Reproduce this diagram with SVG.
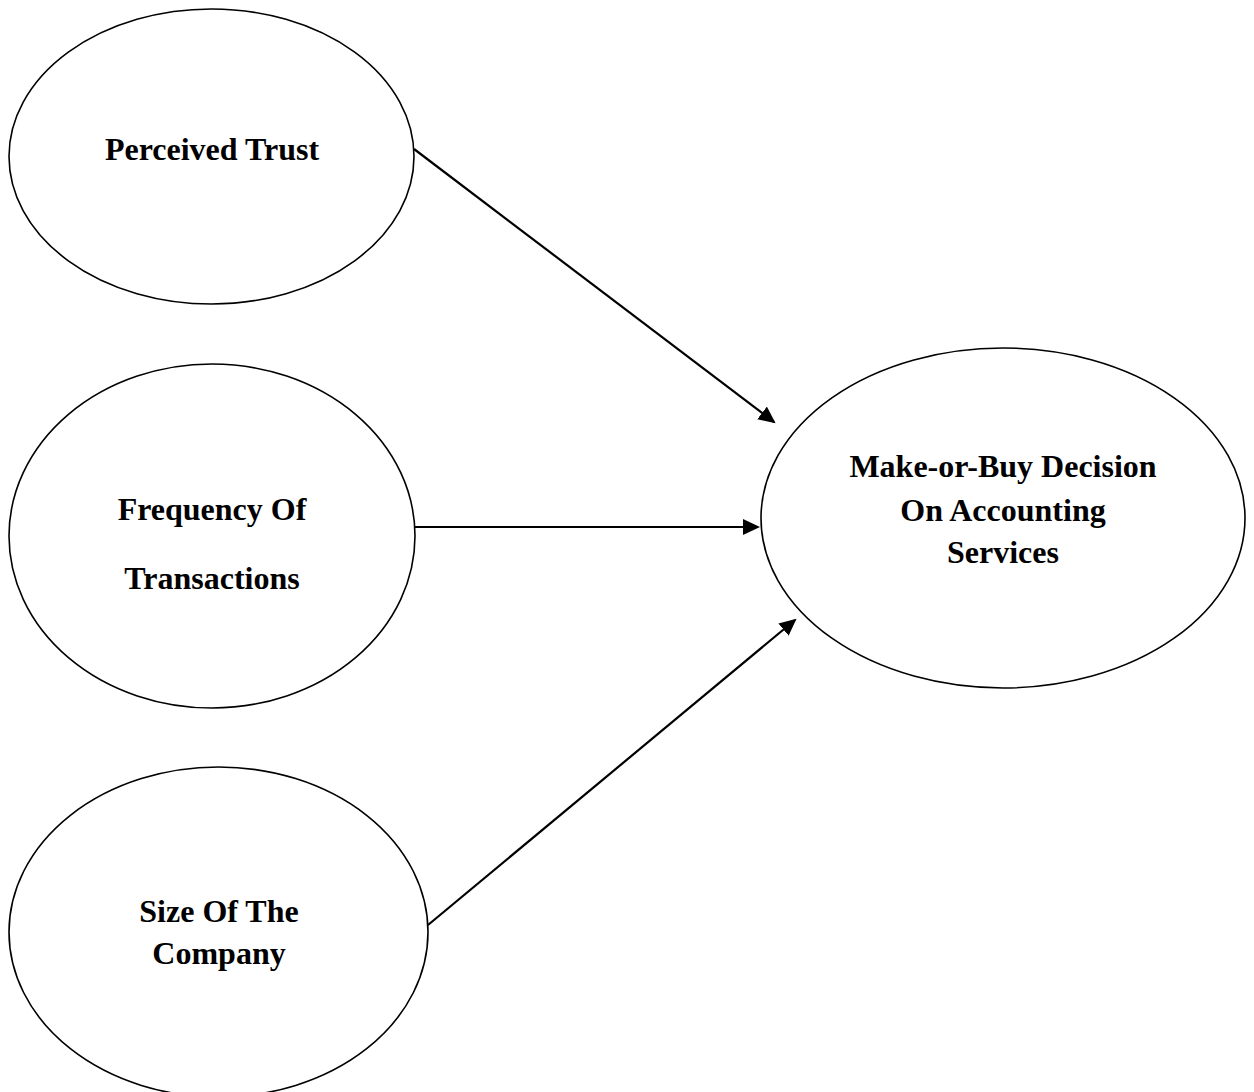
<svg xmlns="http://www.w3.org/2000/svg" width="1254" height="1092" viewBox="0 0 1254 1092">
<style>
.node{fill:#fff;stroke:#000;stroke-width:1.6}
.lbl{font-family:"Liberation Serif","Times New Roman",serif;font-weight:bold;font-size:32px;fill:#000;text-anchor:middle}
.edge{stroke:#000;stroke-width:2.2;fill:none;marker-end:url(#arr)}
</style>
<defs>
<marker id="arr" markerUnits="userSpaceOnUse" markerWidth="20" markerHeight="18" refX="15" refY="8" orient="auto">
<path d="M0,0 L17,8 L0,16 z" fill="#000"/>
</marker>
</defs>
<rect width="1254" height="1092" fill="#fff"/>
<g id="connectors">
<line class="edge" x1="414" y1="149" x2="774" y2="422"/>
<line class="edge" x1="415" y1="527" x2="758" y2="527"/>
<line class="edge" x1="428" y1="925" x2="795" y2="620"/>
</g>
<g id="perceived-trust">
<ellipse class="node" cx="211.5" cy="156.5" rx="202.5" ry="147.5"/>
<text class="lbl" x="212" y="160">Perceived Trust</text>
</g>
<g id="frequency">
<ellipse class="node" cx="212" cy="536" rx="203" ry="172"/>
<text class="lbl" x="212" y="520">Frequency Of</text>
<text class="lbl" x="212" y="589">Transactions</text>
</g>
<g id="size">
<ellipse class="node" cx="218.5" cy="932" rx="209.5" ry="165"/>
<text class="lbl" x="219" y="922">Size Of The</text>
<text class="lbl" x="219" y="964">Company</text>
</g>
<g id="decision">
<ellipse class="node" cx="1003" cy="518" rx="242" ry="170"/>
<text class="lbl" x="1003" y="477">Make-or-Buy Decision</text>
<text class="lbl" x="1003" y="521">On Accounting</text>
<text class="lbl" x="1003" y="563">Services</text>
</g>
</svg>
